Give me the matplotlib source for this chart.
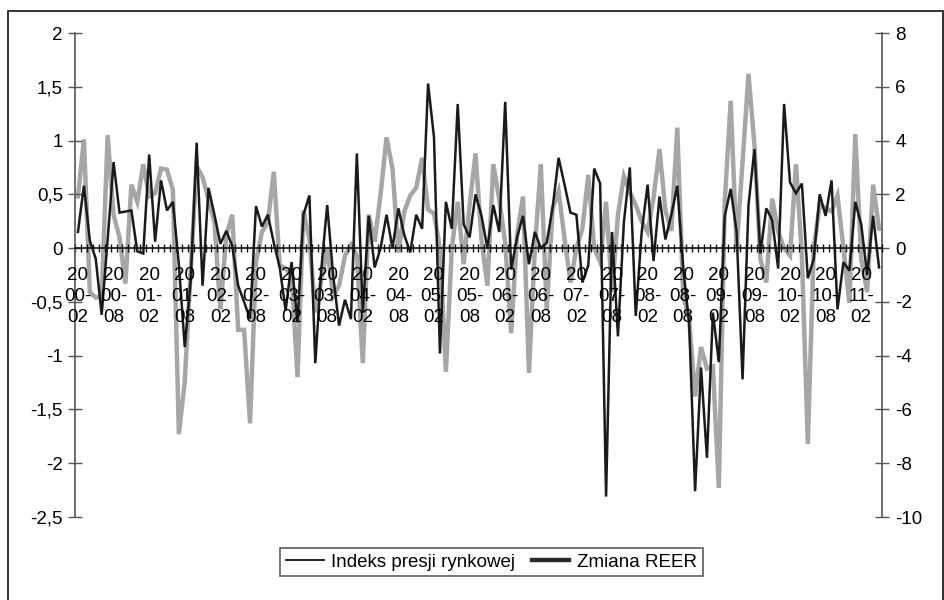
import matplotlib
matplotlib.use('Agg')
import numpy as np
import matplotlib.pyplot as plt
from matplotlib.ticker import FuncFormatter
from matplotlib.lines import Line2D
from matplotlib.patches import Rectangle

# ---------------- data ----------------
# monthly observations 2000-02 ... 2011-05 (136 months)
indeks_presji = [
    0.15, 0.58, 0.07, -0.10, -0.62, 0.08, 0.80, 0.33, 0.34, 0.35,
    -0.03, -0.05, 0.87, 0.06, 0.63, 0.35, 0.43, -0.15, -0.92, -0.30,
    0.98, -0.35, 0.56, 0.31, 0.04, 0.16, 0.02, -0.35, -0.50, -0.66,
    0.39, 0.20, 0.31, 0.05, -0.18, -0.58, -0.13, -0.69, 0.31, 0.49,
    -1.07, -0.20, 0.40, -0.25, -0.72, -0.48, -0.66, 0.88, -0.60, 0.30,
    -0.18, 0.00, 0.31, 0.00, 0.37, 0.12, -0.04, 0.31, 0.18, 1.53,
    1.03, -0.98, 0.43, 0.18, 1.34, 0.22, 0.10, 0.50, 0.30, 0.00,
    0.40, 0.15, 1.36, -0.20, 0.10, 0.30, -0.15, 0.15, 0.00, 0.05,
    0.38, 0.84, 0.59, 0.33, 0.31, -0.32, -0.16, 0.74, 0.60, -2.31,
    0.15, -0.82, 0.24, 0.75, -0.63, 0.15, 0.59, -0.12, 0.48, 0.08,
    0.31, 0.58, -0.19, -0.70, -2.26, -1.11, -1.95, -0.60, -1.06, 0.30,
    0.55, 0.15, -1.22, 0.40, 0.92, -0.05, 0.37, 0.26, -0.19, 1.34,
    0.61, 0.51, 0.60, -0.28, -0.10, 0.50, 0.30, 0.63, -0.57, -0.13,
    -0.21, 0.43, 0.22, -0.25, 0.30, -0.18,
]

zmiana_reer = [
    1.92, 4.04, -1.64, -1.84, -1.8, 4.2, 1.24, 0.4, -1.32, 2.36,
    1.72, 3.12, 1.92, 2.04, 2.96, 2.92, 2.16, -6.92, -4.96, -0.8,
    3.04, 2.64, 1.8, 0.96, -2.28, 0.48, 1.24, -3.04, -3.04, -6.52,
    -0.52, 0.6, 0.96, 2.84, -0.64, -0.76, -1.0, -4.8, 1.4, 0.32,
    -2.4, -1.2, 0.0, -1.8, -1.4, -0.28, 0.12, -0.28, -4.28, 1.24,
    0.24, 2.0, 4.12, 2.96, -0.16, 1.36, 1.96, 2.24, 3.36, 1.44,
    1.28, 0.0, -4.6, 0.0, 1.72, -0.6, 1.6, 3.52, 0.32, -1.4,
    3.12, 1.8, 0.2, -3.16, 0.48, 1.92, -4.64, 0.0, 3.12, -2.28,
    1.48, 2.12, 0.36, -1.28, 0.0, 0.72, 2.72, 0.0, -0.52, 1.72,
    -1.64, 1.24, 2.68, 2.08, 1.6, 1.0, 0.6, 1.88, 3.68, 1.4,
    0.64, 4.48, -1.76, -2.64, -5.52, -3.68, -4.48, -4.4, -8.92, 1.72,
    5.48, 0.0, 3.2, 6.48, 3.84, -0.4, -1.28, 1.84, 0.6, 0.0,
    -0.28, 3.12, -0.28, -7.28, 0.0, 1.6, 1.48, 1.36, 1.96, 0.0,
    -2.04, 4.24, -0.4, -1.64, 2.36, 0.72,
]

tick_labels = [
    "2000-02", "2000-08", "2001-02", "2001-08", "2002-02", "2002-08",
    "2003-02", "2003-08", "2004-02", "2004-08", "2005-02", "2005-08",
    "2006-02", "2006-08", "2007-02", "2007-08", "2008-02", "2008-08",
    "2009-02", "2009-08", "2010-02", "2010-08", "2011-02",
]
tick_label_step = 6  # one label every 6 months

legend_labels = ["Indeks presji rynkowej", "Zmiana REER"]

# ---------------- style ----------------
plt.rcParams['font.family'] = ['Liberation Sans', 'DejaVu Sans']
FS = 13.5
plt.rcParams['font.size'] = FS

W, H = 945, 600
fig = plt.figure(figsize=(W / 100, H / 100), dpi=100)
L, R, T, B = 75, 882, 33, 517
ax = fig.add_axes([L / W, 1 - B / H, (R - L) / W, (B - T) / H])
ax2 = ax.twinx()

n = len(indeks_presji)
x = np.arange(n)

ax2.plot(x, zmiana_reer, color='#a6a6a6', lw=3.2, solid_joinstyle='miter')
ax.plot(x, indeks_presji, color='#1a1a1a', lw=1.8, solid_joinstyle='miter')

ax.set_zorder(ax2.get_zorder() + 1)
ax.patch.set_visible(False)

ax.set_xlim(-0.5, n - 0.5)
ax.set_ylim(-2.5, 2)
ax2.set_ylim(-10, 8)
ax.set_yticks(np.arange(-2.5, 2.01, 0.5))
ax2.set_yticks(np.arange(-10, 8.01, 2))


def comma(v, pos=None):
    s = f"{v:g}"
    if s == "-0":
        s = "0"
    return s.replace('.', ',')


ax.yaxis.set_major_formatter(FuncFormatter(comma))
ax2.yaxis.set_major_formatter(FuncFormatter(comma))

for a in (ax, ax2):
    a.spines['top'].set_visible(False)
ax2.spines['bottom'].set_visible(False)
ax2.spines['left'].set_visible(False)
ax.spines['right'].set_visible(False)
ax.spines['left'].set_color('#555555')
ax.spines['left'].set_linewidth(1.2)
ax2.spines['right'].set_color('#555555')
ax2.spines['right'].set_linewidth(1.2)
ax.spines['bottom'].set_position(('data', 0))
ax.spines['bottom'].set_color('#111111')
ax.spines['bottom'].set_linewidth(1.2)

ax.tick_params(axis='y', direction='inout', length=9.4, width=1, color='#555555', pad=4)
ax2.tick_params(axis='y', direction='inout', length=9.4, width=1, color='#555555', pad=5)

ax.set_xticks(np.arange(n + 1) - 0.5)
ax.tick_params(axis='x', which='major', direction='inout', length=5.8, width=1,
               color='#111111', labelbottom=False)

for k, lab in enumerate(tick_labels):
    pos = k * tick_label_step
    yy, mm = lab.split('-')
    txt = f"{yy[:2]}\n{yy[2:]}-\n{mm}"
    ax.annotate(txt, xy=(pos, 0), xycoords='data', xytext=(0, -19),
                textcoords='offset pixels', ha='center', va='top',
                linespacing=1.3, fontsize=FS)

handles = [Line2D([], [], color='#111111', lw=1.3),
           Line2D([], [], color='#2a2a2a', lw=3.2)]
leg = fig.legend(handles, legend_labels, loc='center',
                 bbox_to_anchor=(491.5 / W, 1 - 562 / H), ncol=2,
                 frameon=True, fancybox=False, edgecolor='#333333',
                 handlelength=2.0, handletextpad=0.4, columnspacing=0.9,
                 borderpad=0.3, fontsize=FS)
leg.get_frame().set_linewidth(1.2)

fig.add_artist(Rectangle((8 / W, -0.05), (943 - 8) / W, 1 - 11 / H + 0.05,
                         transform=fig.transFigure, fill=False, lw=1.3,
                         edgecolor='#222222'))

fig.savefig('out.png', dpi=100)
